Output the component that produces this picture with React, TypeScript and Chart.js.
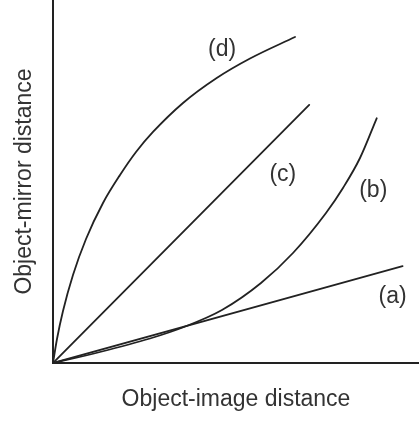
import React, { useEffect, useRef } from "react";
import { Chart, registerables } from "chart.js";

Chart.register(...registerables);

const xTitle = "Object-image distance";
const yTitle = "Object-mirror distance";

const seriesA: [number, number][] = [[0, 0], [95.5, 26.7]];
const seriesB: [number, number][] = [
  [0, 0], [12.84, 3.03], [26.5, 6.75], [35.79, 9.92], [46.17, 14.6],
  [56.83, 22.04], [65.57, 30.3], [74.59, 41.32], [79.23, 48.21],
  [83.88, 56.47], [88.44, 67.41],
];
const seriesC: [number, number][] = [[0, 0], [70.0, 71.1]];
const seriesD: [number, number][] = [
  [0, 0], [1.09, 6.61], [2.73, 14.33], [5.46, 24.24], [9.02, 34.16],
  [13.66, 44.08], [18.31, 51.79], [22.68, 58.13], [27.32, 63.64],
  [35.52, 71.63], [44.73, 78.51], [53.83, 83.88], [66.12, 89.81],
];

const curveLabels = ["(a)", "(b)", "(c)", "(d)"];
const labelPositions: [number, number][] = [
  [92.8, 18.2], [87.5, 47.6], [62.8, 51.8], [46.2, 86.4],
];

const FONT = "'Liberation Sans', Arial, Helvetica, sans-serif";
const INK = "#222";

const labelPlugin = {
  id: "curveLabels",
  afterDatasetsDraw(chart: any) {
    const { ctx, scales } = chart;
    ctx.save();
    ctx.font = `23px ${FONT}`;
    ctx.fillStyle = "#333";
    ctx.textAlign = "center";
    ctx.textBaseline = "middle";
    curveLabels.forEach((t, i) => {
      const [x, y] = labelPositions[i];
      ctx.fillText(t, scales.x.getPixelForValue(x), scales.y.getPixelForValue(y));
    });
    ctx.restore();
  },
};

export default function App() {
  const ref = useRef<HTMLCanvasElement>(null);
  useEffect(() => {
    document.body.style.margin = "0";
    document.body.style.background = "#fff";
    const toPts = (s: [number, number][]) => s.map(([x, y]) => ({ x, y }));
    const mk = (s: [number, number][]) => ({
      data: toPts(s),
      borderColor: INK,
      borderWidth: 1.8,
      pointRadius: 0,
      fill: false,
      cubicInterpolationMode: "monotone" as const,
    });
    const chart = new Chart(ref.current!, {
      type: "line",
      data: { datasets: [mk(seriesA), mk(seriesB), mk(seriesC), mk(seriesD)] },
      options: {
        animation: false,
        responsive: true,
        maintainAspectRatio: false,
        layout: { padding: 0 },
        plugins: { legend: { display: false }, tooltip: { enabled: false } },
        elements: { line: { borderCapStyle: "round" } },
        scales: {
          x: {
            type: "linear",
            min: 0,
            max: 100,
            grid: { display: false, drawTicks: false, tickLength: 0 },
            ticks: { display: false },
            border: { display: true, color: INK, width: 2 },
            title: {
              display: true,
              text: xTitle,
              color: "#333",
              font: { family: FONT, size: 23 },
              padding: { top: 23.2, bottom: 7.2 },
            },
          },
          y: {
            type: "linear",
            min: 0,
            max: 100,
            grid: { display: false, drawTicks: false, tickLength: 0 },
            ticks: { display: false },
            border: { display: true, color: INK, width: 2 },
            title: {
              display: true,
              text: yTitle,
              color: "#333",
              font: { family: FONT, size: 23 },
              padding: { top: 11.2, bottom: 14.2 },
            },
          },
        },
      },
      plugins: [labelPlugin],
    });
    return () => chart.destroy();
  }, []);
  return (
    <div style={{ width: 419, height: 421, position: "relative" }}>
      <canvas ref={ref} />
    </div>
  );
}
